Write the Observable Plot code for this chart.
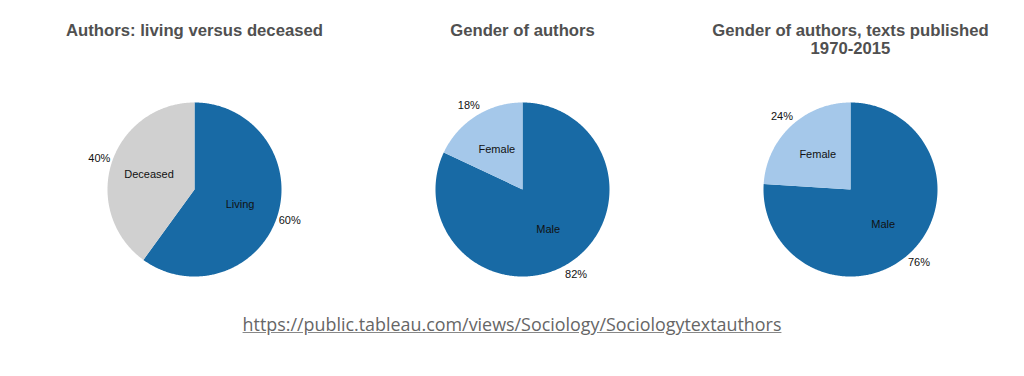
<!DOCTYPE html>
<html>
<head>
<meta charset="utf-8">
<script src="https://cdn.jsdelivr.net/npm/d3@7"></script>
<script src="https://cdn.jsdelivr.net/npm/@observablehq/plot@0.6"></script>
<style>
  html, body { margin: 0; padding: 0; background: #fff; }
  #url { width: 1024px; text-align: center; font-family: "Open Sans", sans-serif; font-size: 17.9px; color: #666; padding-top: 7px; }
  #url a { color: #666; text-decoration: underline; text-decoration-color: #888; }
</style>
</head>
<body>
<div id="chart"></div>
<div id="url"><a>https://public.tableau.com/views/Sociology/Sociologytextauthors</a></div>
<script>
// ---- data ----
const charts = [
  "Authors: living versus deceased",
  "Gender of authors",
  "Gender of authors, texts published\n1970-2015"
];
const categories = [
  ["Living", "Deceased"],
  ["Male", "Female"],
  ["Male", "Female"]
];
const shares = [
  [60, 40],
  [82, 18],
  [76, 24]
];
const colorDomain = ["Living", "Deceased", "Male", "Female"];
const colorRange = ["#186aa5", "#d0d0d0", "#186aa5", "#a5c8ea"];

// ---- build slices ----
const pie = d3.pie().sort(null).value(d => d.value);
const slices = [];
charts.forEach((chart, i) => {
  const rows = categories[i].map((c, j) => ({chart, cat: c, value: shares[i][j]}));
  pie(rows).forEach(a => slices.push({...a.data, start: a.startAngle, end: a.endAngle, mid: (a.startAngle + a.endAngle) / 2}));
});
// polygon outline of each slice (center + arc)
const outline = [];
slices.forEach((s) => {
  const key = s.chart + "|" + s.cat;
  outline.push({key, chart: s.chart, cat: s.cat, x: 0, y: 0});
  const steps = Math.max(2, Math.ceil((s.end - s.start) / 0.01));
  for (let t = 0; t <= steps; ++t) {
    const a = s.start + (s.end - s.start) * t / steps;
    outline.push({key, chart: s.chart, cat: s.cat, x: Math.sin(a), y: Math.cos(a)});
  }
});

const inR = 0.55, outR = 1.15;

const plot = Plot.plot({
  width: 1024,
  height: 305,
  marginLeft: 30,
  marginRight: 10,
  marginTop: 0,
  marginBottom: 0,
  style: {fontFamily: "'Liberation Sans', Arial, sans-serif", background: "#fff"},
  fx: {domain: charts, axis: null, padding: 0},
  x: {domain: [-1.885, 1.885], axis: null},
  y: {domain: [-1.333, 2.172], axis: null},
  color: {domain: colorDomain, range: colorRange},
  marks: [
    Plot.line(outline, {x: "x", y: "y", z: "key", fx: "chart", fill: "cat", stroke: "none", curve: "linear"}),
    Plot.text(slices, {fx: "chart", x: d => inR * Math.sin(d.mid), y: d => inR * Math.cos(d.mid), text: "cat", fontSize: 11, fill: "#111"}),
    Plot.text(slices, {fx: "chart", x: d => outR * Math.sin(d.mid), y: d => outR * Math.cos(d.mid), text: d => d.value + "%", fontSize: 11, fill: "#111"}),
    Plot.text(charts, {fx: d => d, text: d => d, frameAnchor: "top", lineAnchor: "top", dy: 23, fontSize: 16.7, fontWeight: "bold", fill: "#505050", lineHeight: 1.06})
  ]
});
document.getElementById("chart").appendChild(plot);
</script>
</body>
</html>
